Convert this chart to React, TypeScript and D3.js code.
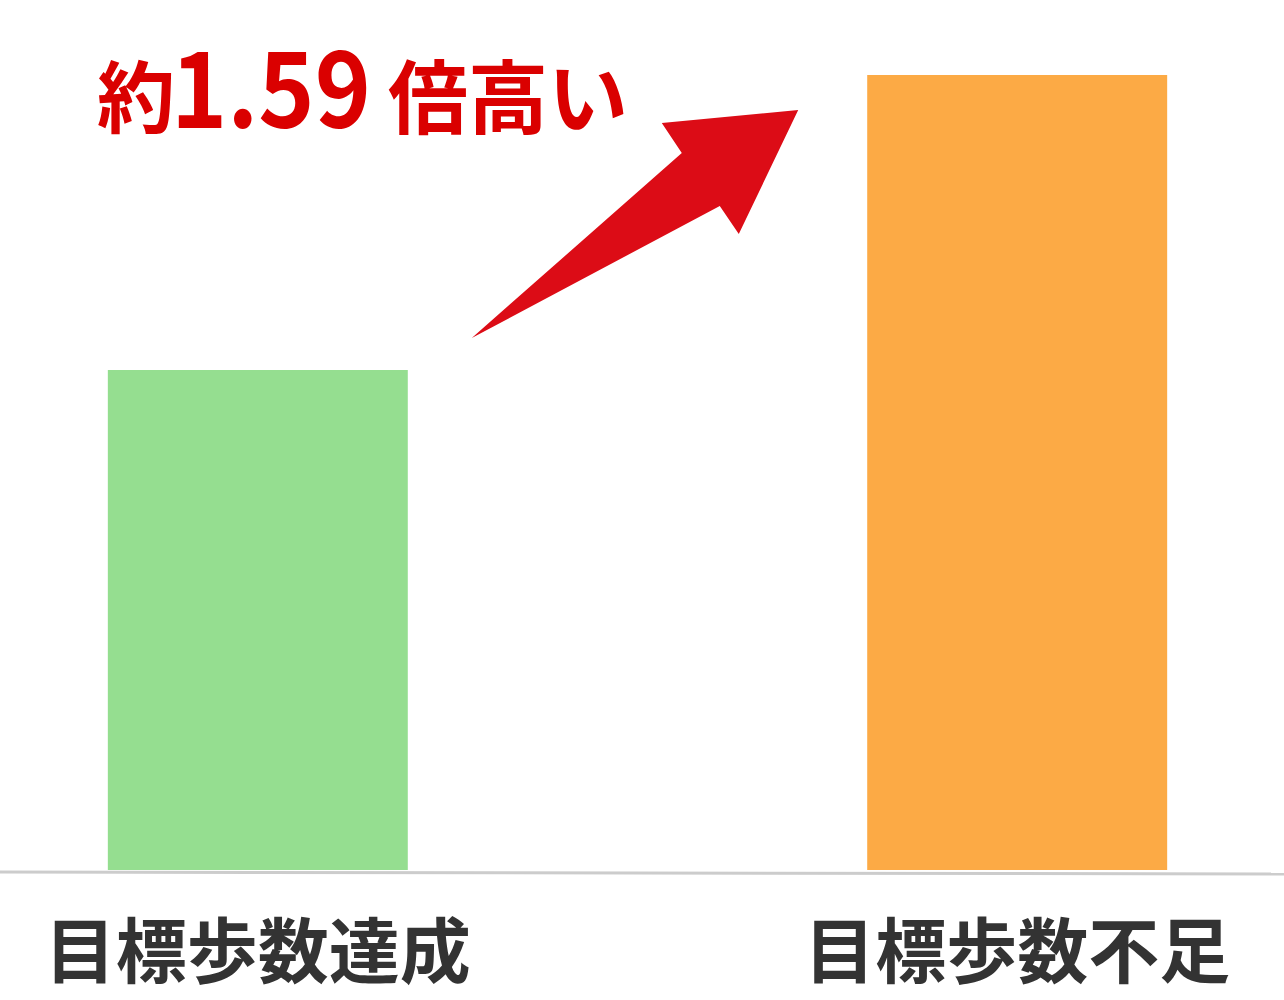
import { useEffect, useRef } from 'react'
import * as d3 from 'd3'

const categories = ['目標歩数達成', '目標歩数不足']
const values = [1.0, 1.59]
const barColors = ['#95de90', '#fcaa45']
const ratioLabel = '1.59'

const WIDTH = 1284
const HEIGHT = 1000

export default function App() {
  const svgRef = useRef<SVGSVGElement>(null)

  useEffect(() => {
    if (!svgRef.current) return
    const svg = d3.select(svgRef.current)
    svg.selectAll('*').remove()

    const font = '"Noto Sans CJK JP", "Noto Sans", sans-serif'

    const x = d3.scaleBand<string>()
      .domain(categories)
      .range([0, 1275])
      .paddingInner(0.605)
      .paddingOuter(0.142)

    const y = d3.scaleLinear()
      .domain([0, 1])
      .range([870, 370])

    // bars
    svg.append('g')
      .selectAll('rect')
      .data(categories)
      .join('rect')
      .attr('x', d => x(d)!)
      .attr('y', (d, i) => y(values[i]))
      .attr('width', x.bandwidth())
      .attr('height', (d, i) => y(0) - y(values[i]))
      .attr('fill', (d, i) => barColors[i])

    // baseline
    svg.append('line')
      .attr('x1', 0)
      .attr('x2', WIDTH)
      .attr('y1', y(0) + 2)
      .attr('y2', y(0) + 4)
      .attr('stroke', '#cccccc')
      .attr('stroke-width', 3)

    // category labels
    svg.append('g')
      .selectAll('text')
      .data(categories)
      .join('text')
      .attr('x', d => x(d)! + x.bandwidth() / 2)
      .attr('y', 977)
      .attr('text-anchor', 'middle')
      .attr('font-family', font)
      .attr('font-weight', 700)
      .attr('font-size', 71)
      .attr('fill', '#333333')
      .text(d => d)

    // arrow from the low bar towards the high bar
    const tail: [number, number] = [x(categories[0])! + x.bandwidth() + 64, y(values[0]) - 32]
    const tip: [number, number] = [x(categories[1])! - 69, y(values[1]) + 35]
    const dx = tip[0] - tail[0]
    const dy = tip[1] - tail[1]
    // shape points as fractions along tail -> tip
    const shape: [number, number][] = [
      [0, 0],
      [210 / dx, -185 / dy],
      [190 / dx, -215 / dy],
      [1, 1],
      [267 / dx, -104 / dy],
      [248 / dx, -132 / dy],
    ]
    const pts = shape.map(([a, b]) => [tail[0] + a * dx, tail[1] + b * dy] as [number, number])
    svg.append('path')
      .attr('d', d3.line()(pts) + 'Z')
      .attr('fill', '#dc0c16')

    // annotation text
    const red = '#da0000'
    svg.append('text')
      .attr('x', 97).attr('y', 127)
      .attr('font-family', font).attr('font-weight', 700)
      .attr('font-size', 78).attr('fill', red)
      .text('約')
    svg.append('text')
      .attr('x', 171).attr('y', 128)
      .attr('font-family', font).attr('font-weight', 700)
      .attr('font-size', 106).attr('fill', red)
      .attr('textLength', 200)
      .attr('lengthAdjust', 'spacingAndGlyphs')
      .text(ratioLabel)
    svg.append('text')
      .attr('x', 388).attr('y', 127)
      .attr('font-family', font).attr('font-weight', 700)
      .attr('font-size', 80).attr('fill', red)
      .text('倍高い')
  }, [])

  return (
    <svg
      ref={svgRef}
      width={WIDTH}
      height={HEIGHT}
      style={{ position: 'absolute', left: 0, top: 0, background: '#ffffff' }}
    />
  )
}
